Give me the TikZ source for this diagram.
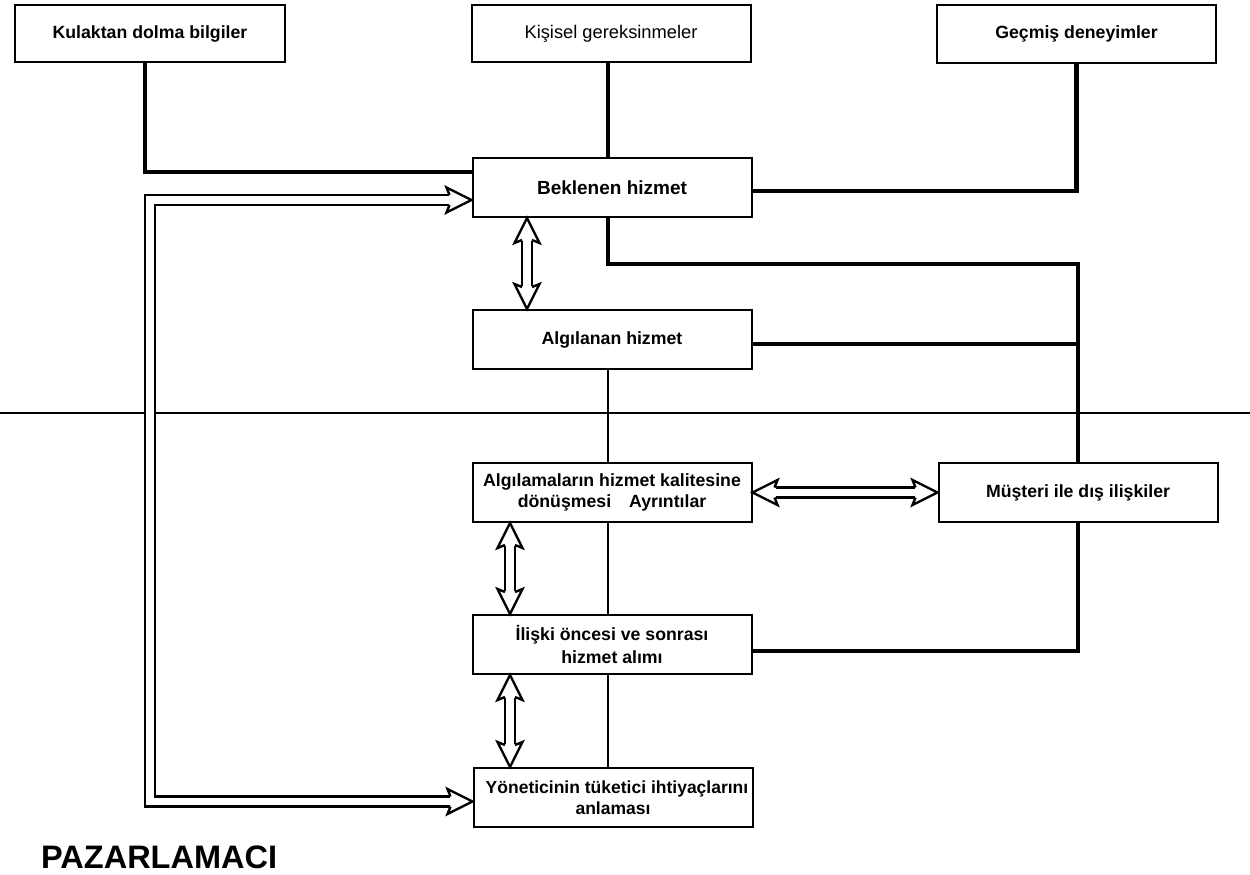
\documentclass[tikz,border=0pt]{standalone}
\usepackage{fontspec}
\setmainfont{Liberation Sans}
\usetikzlibrary{calc}

\tikzset{
  box/.style={draw, line width=2pt, minimum width=279pt, minimum height=59pt,
    inner sep=2pt, align=center, font=\fontsize{17.7}{21.5}\selectfont\bfseries},
  boxreg/.style={box, font=\fontsize{18.3}{22}\selectfont},
  heavy/.style={line width=4.5pt, line join=miter},
  fine/.style={line width=1.6pt},
  dbl/.style={draw, line width=2.4pt, double=white, double distance=7.6pt,
    line join=miter, shorten <=23pt, shorten >=23pt},
  hollowhead/.style={draw, fill=white, line width=2.4pt, line join=miter},
}
% hollow block arrow head: tip at #1, pointing in direction #2 (degrees)
\newcommand\tipat[2]{%
  \path[hollowhead, shift={(#1)}, rotate=#2]
    (-22,-5) -- (-25,-12.5) -- (0,0) -- (-25,12.5) -- (-22,5);}

\begin{document}
\begin{tikzpicture}[x=1pt, y=-1pt]
\useasboundingbox (0,0) rectangle (1250,875);

% boxes
\node[box, minimum width=270pt, minimum height=57pt] (kul) at (150,33.5) {Kulaktan dolma bilgiler};
\node[boxreg, minimum height=57pt] (kis) at (611,33.5) {Kişisel gereksinmeler};
\node[box, minimum height=58pt] (gec) at (1076.5,34) {Geçmiş deneyimler};
\node[box, font=\fontsize{19}{22}\selectfont\bfseries] (bek) at (612,187.5) {Beklenen hizmet};
\node[box] (alg) at (612,339.5) {Algılanan hizmet};
\node[box] (adk) at (612,492.5) {Algılamaların hizmet kalitesine\\dönüşmesi\hspace{18pt}Ayrıntılar};
\node[box] (mus) at (1078,492.5) {Müşteri ile dış ilişkiler};
\node[box] (ilk) at (612,644.5) {İlişki öncesi ve sonrası\\[1.5pt]hizmet alımı};
\node[box, font=\fontsize{17.5}{20.5}\selectfont\bfseries] (yon) at (613,797.5) {\hspace*{8pt}Yöneticinin tüketici ihtiyaçlarını\\anlaması};
\node[anchor=base west, inner sep=0pt, font=\fontsize{32.5}{36}\selectfont\bfseries] (paz) at (41,868) {PAZARLAMACI};

% dividing line
\coordinate (sepL) at (0,413);
\coordinate (sepR) at (1250,413);
\draw[fine] (sepL) -- (sepR);

% heavy connectors
\draw[heavy] ($(kul.south)+(-5,0)$) |- ($(bek.north west)+(0,15)$);
\draw[heavy] ($(kis.south)+(-3,0)$) -- ($(bek.north)+(-4,0)$);
\draw[heavy] (gec.south) |- ($(bek.east)+(0,3.5)$);
\coordinate (jct) at (1078,264);
\draw[heavy] ($(bek.south)+(-4,0)$) |- (jct) -- (mus.north);
\draw[heavy] ($(alg.east)+(0,4.5)$) -- ($(alg.east -| mus.north)+(0,4.5)$);
\draw[heavy] ($(ilk.east)+(0,6.5)$) -| (mus.south);

% thin centre connectors
\draw[fine] ($(alg.south)+(-4,0)$) -- ($(adk.north)+(-4,0)$);
\draw[fine] ($(adk.south)+(-4,0)$) -- ($(ilk.north)+(-4,0)$);
\draw[fine] ($(ilk.south)+(-4,0)$) -- ($(yon.north)+(-5,0)$);

% hollow double arrows
\coordinate (v1a) at ($(bek.south)+(-85,0)$);
\coordinate (v1b) at (v1a |- alg.north);
\draw[dbl] (v1a) -- (v1b);
\tipat{v1a}{90}\tipat{v1b}{-90}

\coordinate (v2a) at ($(adk.south)+(-102,0)$);
\coordinate (v2b) at (v2a |- ilk.north);
\draw[dbl] (v2a) -- (v2b);
\tipat{v2a}{90}\tipat{v2b}{-90}

\coordinate (v3a) at ($(ilk.south)+(-102,0)$);
\coordinate (v3b) at (v3a |- yon.north);
\draw[dbl] (v3a) -- (v3b);
\tipat{v3a}{90}\tipat{v3b}{-90}

\draw[dbl] (adk.east) -- (mus.west);
\tipat{adk.east}{180}\tipat{mus.west}{0}

% feedback loop on the left
\coordinate (lt1) at ($(bek.west)+(0,12.5)$);
\coordinate (lt2) at ($(yon.west)+(0,4)$);
\coordinate (lp) at (150,500);
\draw[dbl] (lt1) -| (lp) |- (lt2);
\tipat{lt1}{0}\tipat{lt2}{0}
\end{tikzpicture}
\end{document}
